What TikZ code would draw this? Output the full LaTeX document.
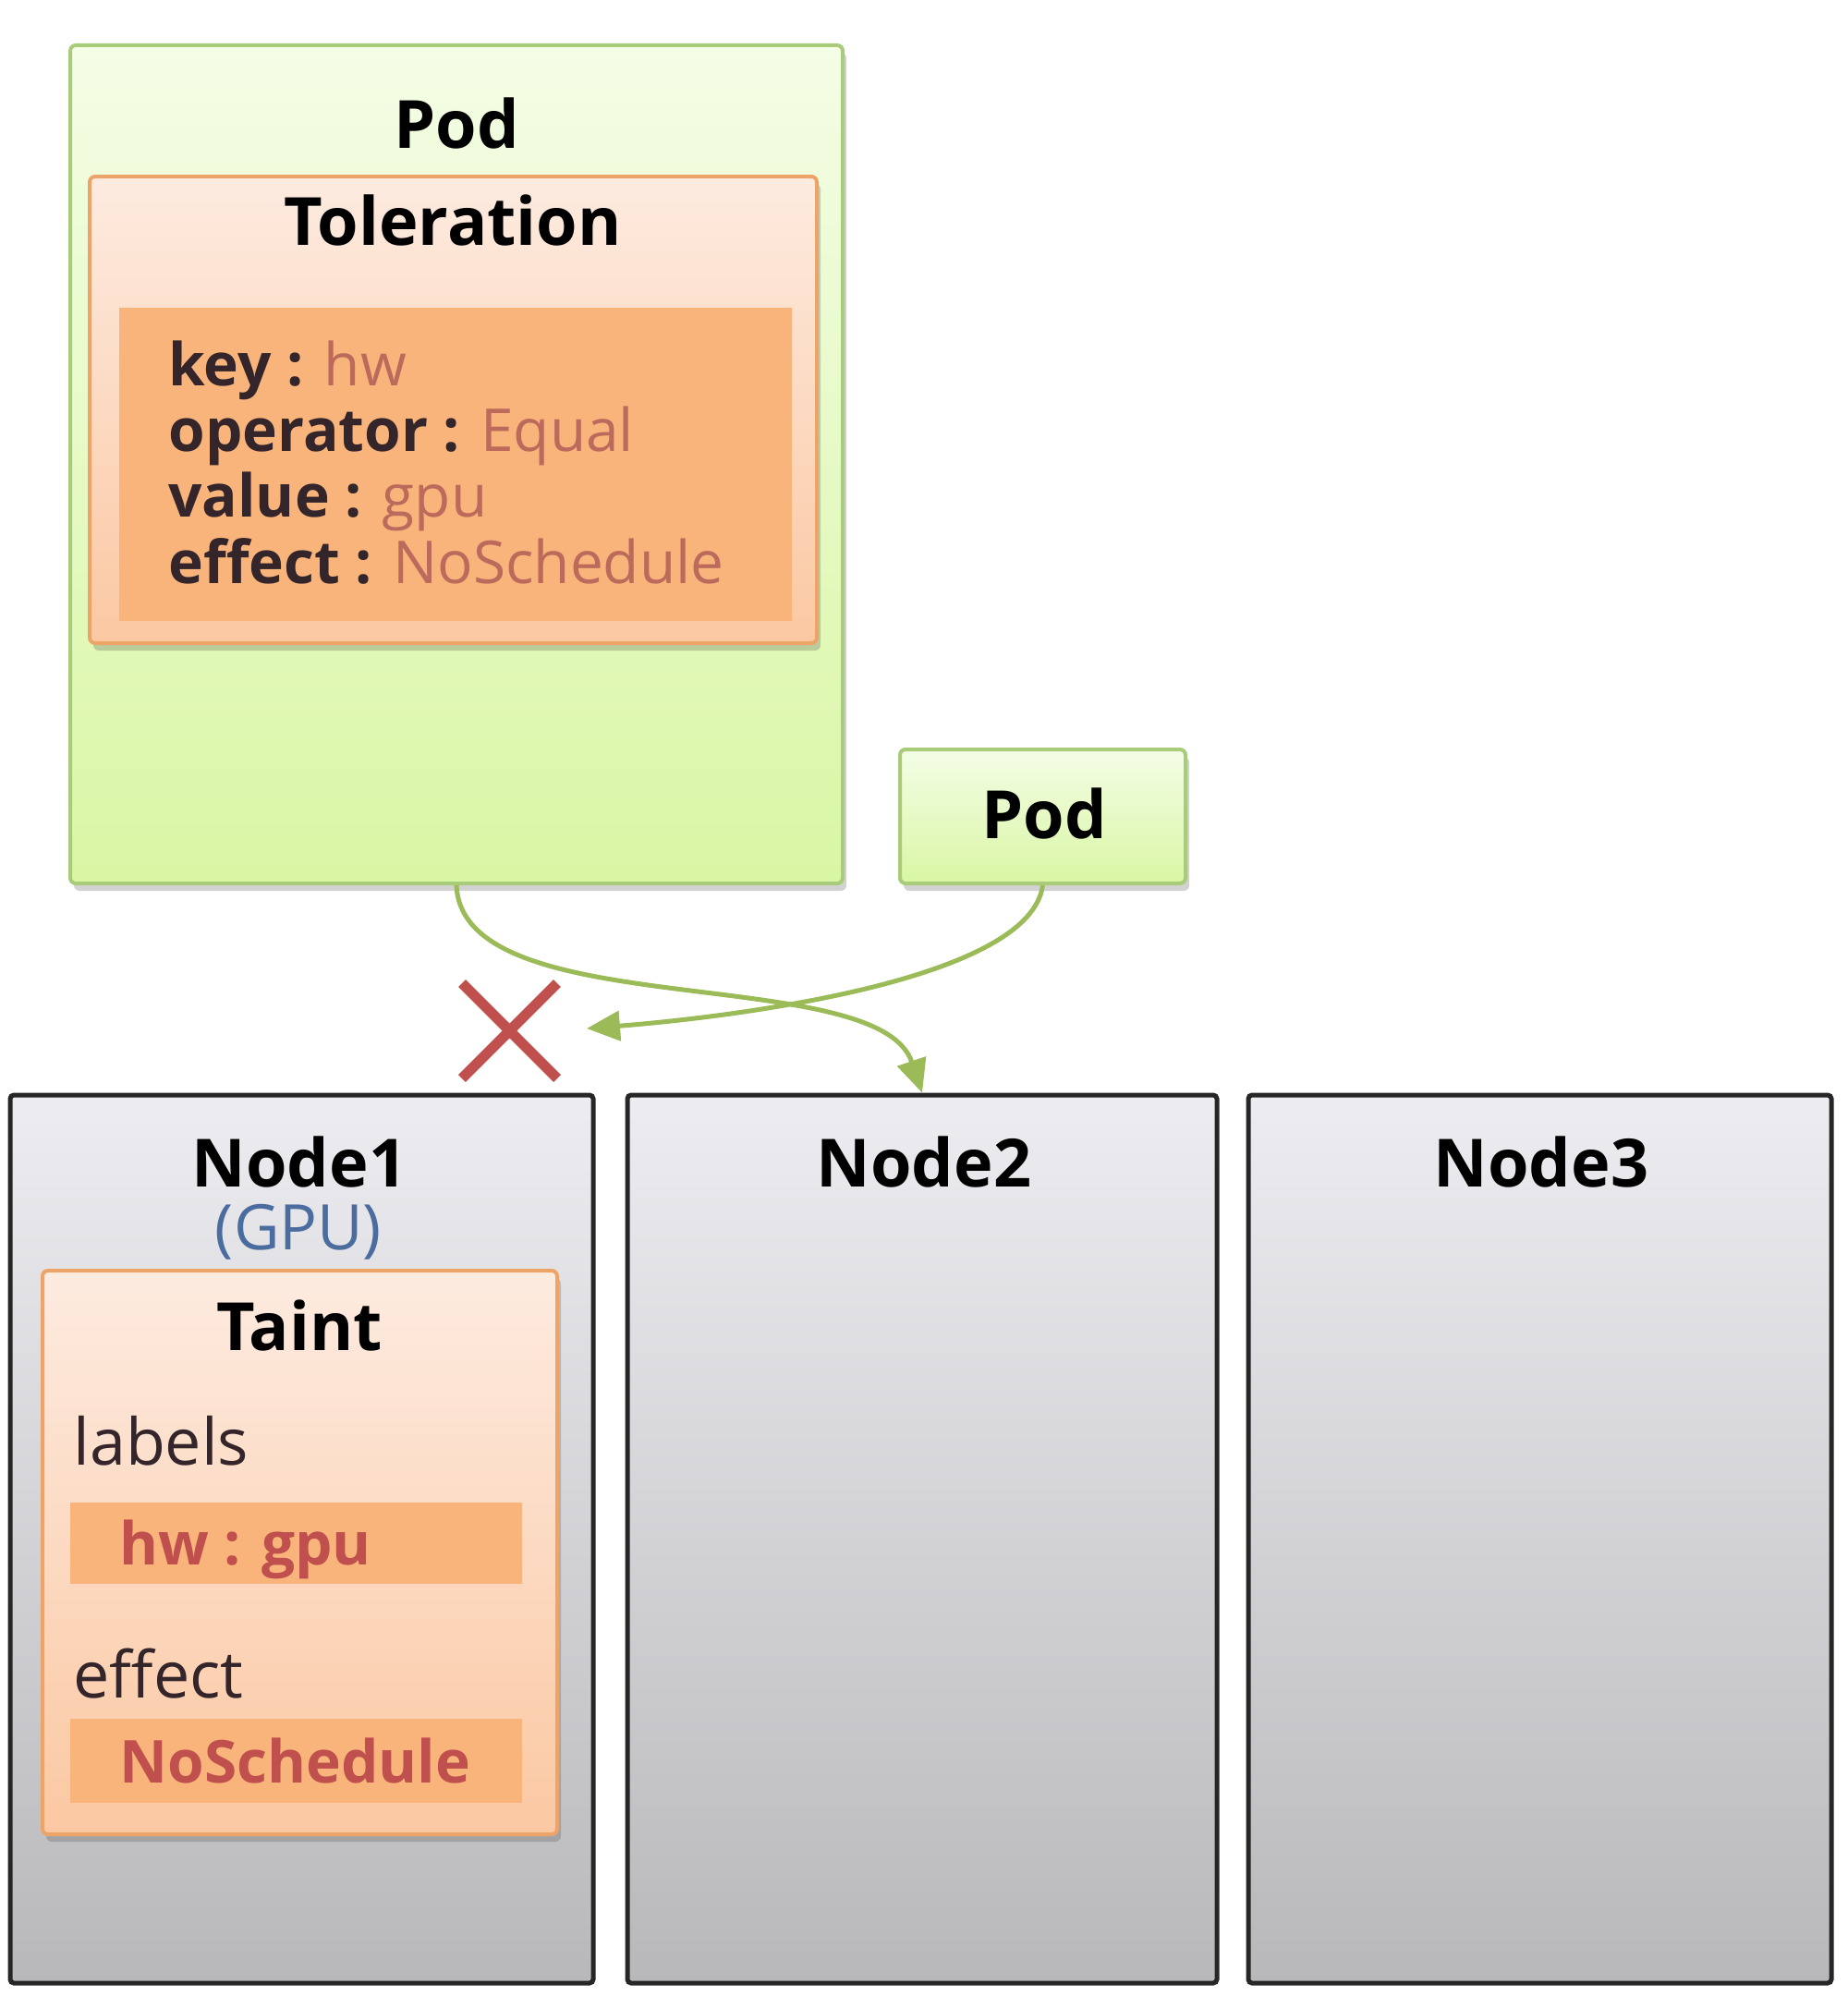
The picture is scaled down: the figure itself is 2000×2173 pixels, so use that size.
\documentclass[tikz,border=0pt]{standalone}
\usepackage{fontspec}
\setmainfont{Open Sans}
\usetikzlibrary{shadows,arrows.meta,calc}
\definecolor{podborder}{HTML}{A9CC7A}
\definecolor{podtop}{HTML}{F4FDE6}
\definecolor{podbot}{HTML}{D9F6A4}
\definecolor{orborder}{HTML}{EDA468}
\definecolor{ortop}{HTML}{FDEBE0}
\definecolor{orbot}{HTML}{FBC8A2}
\definecolor{orinner}{HTML}{F9B47C}
\definecolor{keytxt}{HTML}{33252A}
\definecolor{valtxt}{HTML}{BC6A5C}
\definecolor{redtxt}{HTML}{C0504D}
\definecolor{gpublue}{HTML}{4A6C9E}
\definecolor{nodetop}{HTML}{EDECF0}
\definecolor{nodebot}{HTML}{B8B7BA}
\definecolor{arrowgreen}{HTML}{9BBB59}
\definecolor{xred}{HTML}{C0504D}
\tikzset{
  shad/.style={drop shadow={shadow xshift=2pt, shadow yshift=-4pt, opacity=0.25, fill=black!70}},
  podbox/.style={draw=podborder, line width=2pt, top color=podtop, bottom color=podbot, rounded corners=3pt, shad, inner sep=0pt},
  orbox/.style={draw=orborder, line width=2pt, top color=ortop, bottom color=orbot, rounded corners=3pt, shad, inner sep=0pt},
  orbar/.style={fill=orinner, draw=none, inner sep=0pt},
  nodebox/.style={draw=black!85, line width=2.5pt, top color=nodetop, bottom color=nodebot, rounded corners=2pt, inner sep=0pt},
  titletxt/.style={font=\fontsize{36}{40}\selectfont\bfseries, text=black, inner sep=0pt},
  keyline/.style={font=\fontsize{32}{36}\selectfont, text=keytxt, anchor=mid west, inner sep=0pt},
  bigline/.style={font=\fontsize{35}{40}\selectfont, text=keytxt, anchor=mid west, inner sep=0pt},
  redline/.style={font=\fontsize{32}{38}\selectfont\bfseries, text=redtxt, anchor=mid west, inner sep=0pt},
  conn/.style={draw=arrowgreen, line width=2.5pt, -{Triangle[length=18pt,width=16pt]}},
}
\begin{document}
\begin{tikzpicture}[x=0.5pt,y=-0.5pt]
\useasboundingbox[fill=white] (0,0) rectangle (2000,2173);
% big pod
\node[podbox, minimum width=418pt, minimum height=453.5pt] (pod) at (494,502.5) {};
\node[titletxt] (podtitle) at (494,134) {Pod};
\node[orbox, minimum width=393.5pt, minimum height=252.5pt] (tol) at (490.5,443.5) {};
\node[titletxt] (toltitle) at (490,238) {Toleration};
\node[orbar, minimum width=364pt, minimum height=169.5pt] (tolinner) at (493,502.5) {};
\node[keyline] (k1) at (182,412) {\textbf{key :} \textcolor{valtxt}{hw}};
\node[keyline] (k2) at (182,483) {\textbf{operator :} \textcolor{valtxt}{Equal}};
\node[keyline] (k3) at (182,554) {\textbf{value :} \textcolor{valtxt}{gpu}};
\node[keyline] (k4) at (182,626) {\textbf{effect :} \textcolor{valtxt}{NoSchedule}};
% small pod
\node[podbox, minimum width=154.5pt, minimum height=72.5pt] (pod2) at (1128.5,883.5) {};
\node[titletxt] (pod2title) at (1130,880) {Pod};
% nodes
\node[nodebox, minimum width=315.5pt, minimum height=480.5pt] (node1) at (326.5,1665.5) {};
\node[nodebox, minimum width=319pt, minimum height=480.5pt] (node2) at (998,1665.5) {};
\node[nodebox, minimum width=315.5pt, minimum height=480.5pt] (node3) at (1666.5,1665.5) {};
\node[titletxt] (n1title) at (324,1257) {Node1};
\node[titletxt] (n2title) at (1000,1257) {Node2};
\node[titletxt] (n3title) at (1668,1257) {Node3};
\node[font=\fontsize{34}{38}\selectfont, text=gpublue, inner sep=0pt] (gpu) at (323,1333) {(GPU)};
% taint
\node[orbox, minimum width=278.5pt, minimum height=305pt] (taint) at (324.5,1680) {};
\node[titletxt] (tainttitle) at (324,1434) {Taint};
\node[bigline] (labels) at (79,1580) {labels};
\node[orbar, minimum width=244.5pt, minimum height=44pt] (bar1) at (320.5,1670) {};
\node[redline] (hwgpu) at (129,1688) {hw : gpu};
\node[bigline] (effect) at (79,1832) {effect};
\node[orbar, minimum width=244.5pt, minimum height=45.5pt] (bar2) at (320.5,1905.5) {};
\node[redline] (nosched) at (129,1924) {NoSchedule};
% connectors
\coordinate (blocked) at (635,1113);
\draw[conn] (pod.south) .. controls (500,1110) and (950,1040) .. (node2.north);
\draw[conn] (pod2.south) .. controls (1115,1060) and (800,1100) .. (blocked);
% red X
\draw[xred, line width=5.5pt] (500,1064) -- (603,1167) (603,1064) -- (500,1167);
\end{tikzpicture}
\end{document}
